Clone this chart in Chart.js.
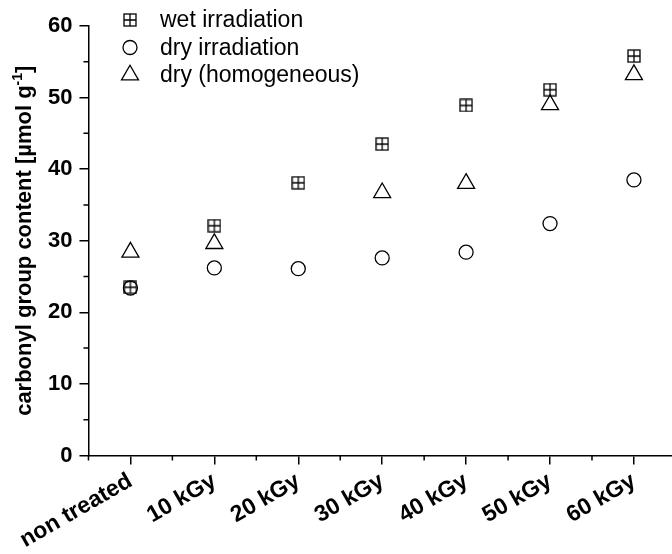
<!DOCTYPE html>
<html>
<head>
<meta charset="utf-8">
<script src="https://cdn.jsdelivr.net/npm/chart.js@4/dist/chart.umd.min.js"></script>
<style>
  body { margin: 0; background: #fff; }
  #frame { width: 672px; height: 554px; overflow: hidden; }
  #box { width: 687px; height: 557px; }
</style>
</head>
<body>
<div id="frame"><div id="box"><canvas id="carbonyl"></canvas></div></div>
<script>
// doses on the x axis
const doses = ["non treated", "10 kGy", "20 kGy", "30 kGy", "40 kGy", "50 kGy", "60 kGy"];

// carbonyl group content [µmol g-1]
const wetIrradiation = [23.5, 32.1, 38.1, 43.5, 48.9, 51.1, 55.8];
const dryIrradiation = [23.4, 26.2, 26.1, 27.6, 28.4, 32.4, 38.5];
const dryHomogeneous = [28.4, 29.6, null, 36.7, 38.0, 49.0, 53.2];

const yTicks = [0, 10, 20, 30, 40, 50, 60];
const yMinorTicks = [5, 15, 25, 35, 45, 55];

const seriesNames = ["wet irradiation", "dry irradiation", "dry (homogeneous)"];

const FONT = "Arial, 'Liberation Sans', sans-serif";

// square with a plus inside, like the origin marker
function boxedCross(size) {
  const c = document.createElement("canvas");
  c.width = size + 2;
  c.height = size + 2;
  const g = c.getContext("2d");
  g.strokeStyle = "#000";
  g.lineWidth = 1.3;
  g.strokeRect(1, 1, size, size);
  g.beginPath();
  g.moveTo(1 + size / 2, 1);
  g.lineTo(1 + size / 2, 1 + size);
  g.moveTo(1, 1 + size / 2);
  g.lineTo(1 + size, 1 + size / 2);
  g.stroke();
  return c;
}
const crossImg = boxedCross(12);

const ctx = document.getElementById("carbonyl");

const extras = {
  id: "extras",
  afterDraw(chart) {
    const c = chart.ctx;
    const x = chart.scales.x;
    const y = chart.scales.y;

    // minor ticks
    c.save();
    c.strokeStyle = "#000";
    c.lineWidth = 1.5;
    c.beginPath();
    for (let i = 0; i <= doses.length; i++) {
      const px = x.getPixelForValue(i - 0.5);
      c.moveTo(px, x.top);
      c.lineTo(px, x.top + 5);
    }
    yMinorTicks.forEach(v => {
      const py = y.getPixelForValue(v);
      c.moveTo(y.right, py);
      c.lineTo(y.right - 5, py);
    });
    c.stroke();
    c.restore();

    // legend in the top left corner
    chart.data.datasets.forEach((ds, i) => {
      const ly = 20 + i * 27.5;
      c.save();
      if (ds.pointStyle instanceof HTMLCanvasElement) {
        c.drawImage(crossImg, 130 - 7, ly - 7);
      } else {
        c.fillStyle = "rgba(0,0,0,0)";
        c.strokeStyle = "#000";
        c.lineWidth = ds.pointBorderWidth;
        Chart.helpers.drawPoint(c, {
          pointStyle: ds.pointStyle,
          radius: ds.pointRadius,
          borderWidth: ds.pointBorderWidth,
          rotation: 0
        }, 130, ly);
      }
      c.fillStyle = "#000";
      c.font = "23px " + FONT;
      c.textBaseline = "middle";
      c.textAlign = "left";
      c.fillText(seriesNames[i], 160, ly + 1);
      c.restore();
    });

    // y axis title with superscript
    c.save();
    const cy = (chart.chartArea.top + chart.chartArea.bottom) / 2;
    c.translate(31, cy);
    c.rotate(-Math.PI / 2);
    c.fillStyle = "#000";
    c.textBaseline = "alphabetic";
    c.textAlign = "left";
    const main = "carbonyl group content [µmol g";
    const sup = "-1";
    const end = "]";
    const big = "bold 22px " + FONT;
    const small = "bold 14px " + FONT;
    c.font = big;
    const w1 = c.measureText(main).width;
    const w3 = c.measureText(end).width;
    c.font = small;
    const w2 = c.measureText(sup).width;
    let sx = -(w1 + w2 + w3) / 2;
    c.font = big;
    c.fillText(main, sx, 0);
    sx += w1;
    c.font = small;
    c.fillText(sup, sx, -9);
    sx += w2;
    c.font = big;
    c.fillText(end, sx, 0);
    c.restore();
  }
};

new Chart(ctx, {
  type: "line",
  data: {
    labels: doses,
    datasets: [
      {
        label: seriesNames[0],
        data: wetIrradiation,
        showLine: false,
        pointStyle: crossImg,
        pointRadius: 7,
        pointBorderWidth: 1.3,
        borderColor: "#000",
        backgroundColor: "transparent",
      },
      {
        label: seriesNames[1],
        data: dryIrradiation,
        showLine: false,
        pointStyle: "circle",
        pointRadius: 7,
        pointBorderWidth: 1.3,
        borderColor: "#000",
        backgroundColor: "transparent",
      },
      {
        label: seriesNames[2],
        data: dryHomogeneous,
        showLine: false,
        pointStyle: "triangle",
        pointRadius: 9.8,
        pointBorderWidth: 1.3,
        borderColor: "#000",
        backgroundColor: "transparent",
      },
    ],
  },
  options: {
    responsive: true,
    maintainAspectRatio: false,
    animation: false,
    layout: { padding: { left: 41, top: 26, right: 0, bottom: 0 } },
    plugins: {
      legend: { display: false },
      tooltip: { enabled: false },
    },
    scales: {
      x: {
        type: "category",
        offset: true,
        // the rotated first label may hang out to the left of the y axis
        afterFit(scale) {
          scale.paddingLeft = 0;
        },
        grid: {
          offset: false,
          drawOnChartArea: false,
          drawTicks: true,
          tickLength: 9,
          color: "#000",
          lineWidth: 1.5,
        },
        border: { display: true, color: "#000", width: 1.5 },
        ticks: {
          autoSkip: false,
          minRotation: 30,
          maxRotation: 30,
          padding: 3,
          color: "#000",
          font: { family: FONT, size: 23, weight: "bold" },
        },
      },
      y: {
        min: 0,
        max: 60,
        afterBuildTicks(scale) {
          scale.ticks = yTicks.map(v => ({ value: v }));
        },
        grid: {
          drawOnChartArea: false,
          drawTicks: true,
          tickLength: 9,
          color: "#000",
          lineWidth: 1.5,
        },
        border: { display: true, color: "#000", width: 1.5 },
        ticks: {
          padding: 7,
          color: "#000",
          font: { family: FONT, size: 22, weight: "bold" },
        },
      },
    },
  },
  plugins: [extras],
});
</script>
</body>
</html>
